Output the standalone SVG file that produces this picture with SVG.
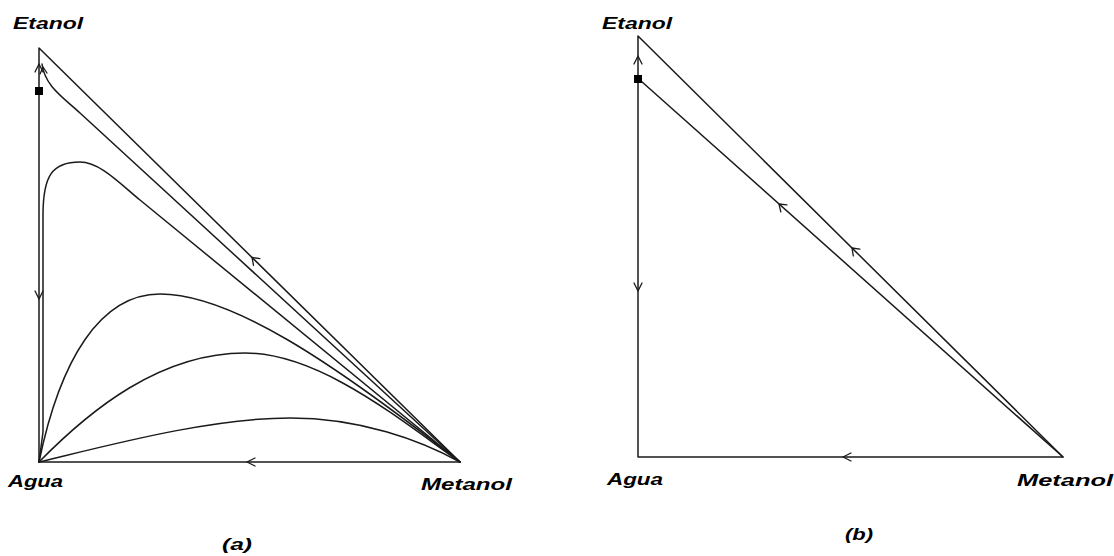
<svg xmlns="http://www.w3.org/2000/svg" width="1114" height="556" viewBox="0 0 1114 556">
<style>
.ln{fill:none;stroke:#1a1a1a;stroke-width:1.5;stroke-linejoin:round;stroke-linecap:round}
.ar{fill:none;stroke:#1a1a1a;stroke-width:1.3;stroke-linecap:round;stroke-linejoin:round}
.lb{font-family:"Liberation Sans",Arial,sans-serif;font-weight:bold;font-style:italic;font-size:16px;fill:#000}
</style>
<rect width="1114" height="556" fill="#fff"/>
<g id="connectors">
<!-- panel a -->
<path class="ln" d="M39,48 L39,462 L460,462 Z"/>
<path class="ln" d="M42,64 C45,86 62,96.5 80,113 L460,462"/>
<path class="ln" d="M39,462 L43,432 L43,215 C43,176 52,162 80,162 C100,162 120,183.6 140,200 L460,462"/>
<path class="ln" d="M39,462 C60,360 100,294 160,294 C230,294 330,360 460,462"/>
<path class="ln" d="M39,462 C90,410 160,353 245,353 C320,353 400,420 460,462"/>
<path class="ln" d="M39,462 C110,445 210,418 290,418 C360,418 420,440 460,462"/>
<path class="ar" d="M35,72 L39,64 L43,72 M40,74 L43,67 L47,73"/>
<path class="ar" d="M35,291 L39,299 L43,291"/>
<path class="ar" d="M255,466 L247,462 L255,458"/>
<path class="ar" d="M259.9,258.7 L252,257.4 L253.5,265.3"/>
<rect x="35" y="87" width="8" height="8" fill="#000"/>
<!-- panel b -->
<path class="ln" d="M638,36 L638,457 L1063,457 Z"/>
<path class="ln" d="M641,81 L1063,457"/>
<path class="ar" d="M634,64 L638,56 L642,64"/>
<path class="ar" d="M634,283 L638,291 L642,283"/>
<path class="ar" d="M851,461 L843,457 L851,453"/>
<path class="ar" d="M786.9,204.9 L779,204 L780.8,211.8"/>
<path class="ar" d="M859.9,249.2 L852,248 L853.3,255.9"/>
<rect x="634" y="75" width="8" height="8" fill="#000"/>
</g>
<g id="etanol-a"><text class="lb" x="13" y="29" textLength="70" lengthAdjust="spacingAndGlyphs">Etanol</text></g>
<g id="agua-a"><text class="lb" x="8" y="487" textLength="55" lengthAdjust="spacingAndGlyphs">Agua</text></g>
<g id="metanol-a"><text class="lb" x="421" y="490" textLength="91" lengthAdjust="spacingAndGlyphs">Metanol</text></g>
<g id="label-a"><text class="lb" x="222" y="550" textLength="30" lengthAdjust="spacingAndGlyphs">(a)</text></g>
<g id="etanol-b"><text class="lb" x="602" y="29" textLength="70" lengthAdjust="spacingAndGlyphs">Etanol</text></g>
<g id="agua-b"><text class="lb" x="607" y="485" textLength="56" lengthAdjust="spacingAndGlyphs">Agua</text></g>
<g id="metanol-b"><text class="lb" x="1017" y="486" textLength="96" lengthAdjust="spacingAndGlyphs">Metanol</text></g>
<g id="label-b"><text class="lb" x="845" y="540" textLength="28" lengthAdjust="spacingAndGlyphs">(b)</text></g>
</svg>
